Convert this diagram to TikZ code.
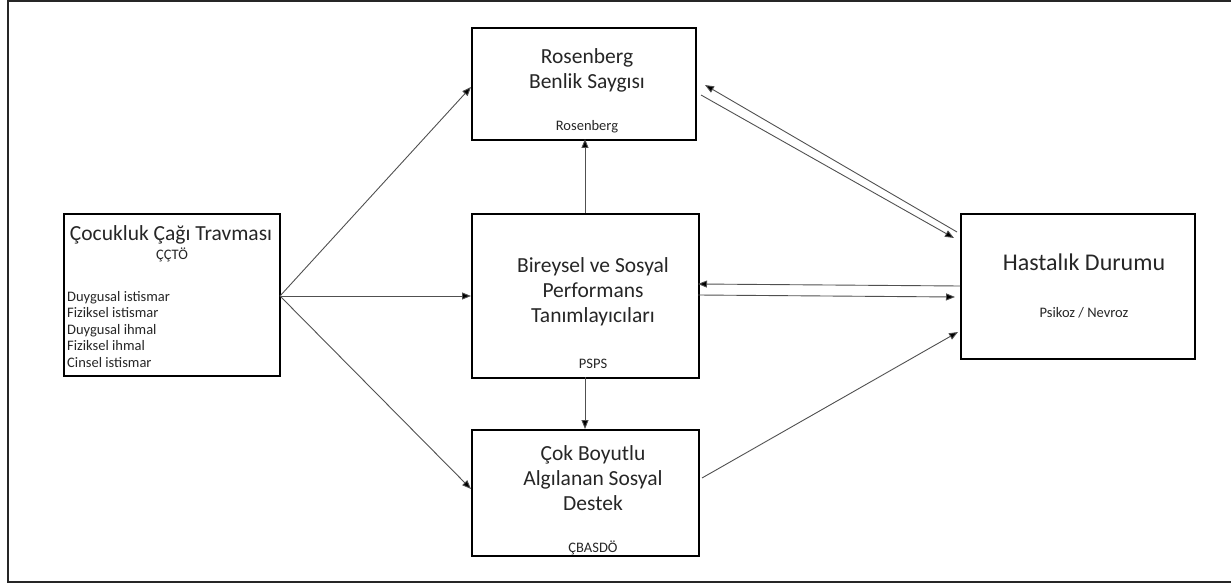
\documentclass[tikz,border=0pt]{standalone}
\usepackage{fontspec}
\setmainfont{Carlito}
\usetikzlibrary{arrows.meta}
\definecolor{txt}{HTML}{262626}
\definecolor{ln}{HTML}{505050}
\tikzset{
  box/.style={draw=black, line width=1.8pt, fill=none},
  big/.style={text=txt, font=\fontsize{21.5}{25}\selectfont, align=center, inner sep=0pt},
  small/.style={text=txt, font=\fontsize{14.5}{16.5}\selectfont, align=center, inner sep=0pt},
  conn/.style={draw=ln, line width=0.9pt, -{Triangle[length=9pt,width=7pt,fill=black]}},
}
\begin{document}
\begin{tikzpicture}[x=1pt,y=-1pt]
\useasboundingbox (0,0) rectangle (1231,585);
% outer frame
\draw[draw=txt, line width=1.8pt] (1240,1) -- (8,1) -- (8,582) -- (1240,582);
% boxes
\node[box, minimum width=216pt, minimum height=162pt, anchor=north west] (ct) at (63,213) {};
\node[box, minimum width=224pt, minimum height=112pt, anchor=north west] (rb) at (471,27) {};
\node[box, minimum width=227pt, minimum height=164pt, anchor=north west] (bs) at (471,213) {};
\node[box, minimum width=227pt, minimum height=126pt, anchor=north west] (cb) at (471,429) {};
\node[box, minimum width=234pt, minimum height=145pt, anchor=north west] (hd) at (960,213) {};
% texts
\node[big] (ctT) at (171,235) {Çocukluk Çağı Travması};
\node[small] (ctS) at (172,255) {ÇÇTÖ};
\node[small, align=left, anchor=north west] (ctL) at (67,291) {Duygusal istismar\\Fiziksel istismar\\Duygusal ihmal\\Fiziksel ihmal\\Cinsel istismar};
\node[big] (rbT) at (587,70) {Rosenberg\\Benlik Saygısı};
\node[small] (rbS) at (587,127) {Rosenberg};
\node[big] (bsT) at (593,292) {Bireysel ve Sosyal\\Performans\\Tanımlayıcıları};
\node[small] (bsS) at (593,364) {PSPS};
\node[big] (cbT) at (593,478) {Çok Boyutlu\\Algılanan Sosyal\\Destek};
\node[small] (cbS) at (593,548) {ÇBASDÖ};
\node[big, font=\fontsize{24}{28}\selectfont] (hdT) at (1084,262) {Hastalık Durumu};
\node[small] (hdS) at (1084,313) {Psikoz / Nevroz};
% connector coordinates
\coordinate (o) at (280,296);
\coordinate (rbL) at (471,87);
\coordinate (bsL) at (471,296);
\coordinate (cbL) at (471,489);
\coordinate (bsTop) at (585,213);
\coordinate (rbBot) at (585,139);
\coordinate (bsBot) at (585,377);
\coordinate (cbTop) at (585,429);
\coordinate (h1s) at (957,232);
\coordinate (r1e) at (705,85);
\coordinate (r2s) at (701,95);
\coordinate (h2e) at (954,238);
\coordinate (h3s) at (960,286);
\coordinate (b3e) at (698,284);
\coordinate (b4s) at (698,295);
\coordinate (h4e) at (955,297);
\coordinate (c5s) at (702,478);
\coordinate (h5e) at (958,332);
% connectors
\draw[conn] (o) -- (rbL);
\draw[conn] (o) -- (bsL);
\draw[conn] (o) -- (cbL);
\draw[conn] (bsTop) -- (rbBot);
\draw[conn] (bsBot) -- (cbTop);
\draw[conn] (h1s) -- (r1e);
\draw[conn] (r2s) -- (h2e);
\draw[conn] (h3s) -- (b3e);
\draw[conn] (b4s) -- (h4e);
\draw[conn] (c5s) -- (h5e);
\end{tikzpicture}
\end{document}
